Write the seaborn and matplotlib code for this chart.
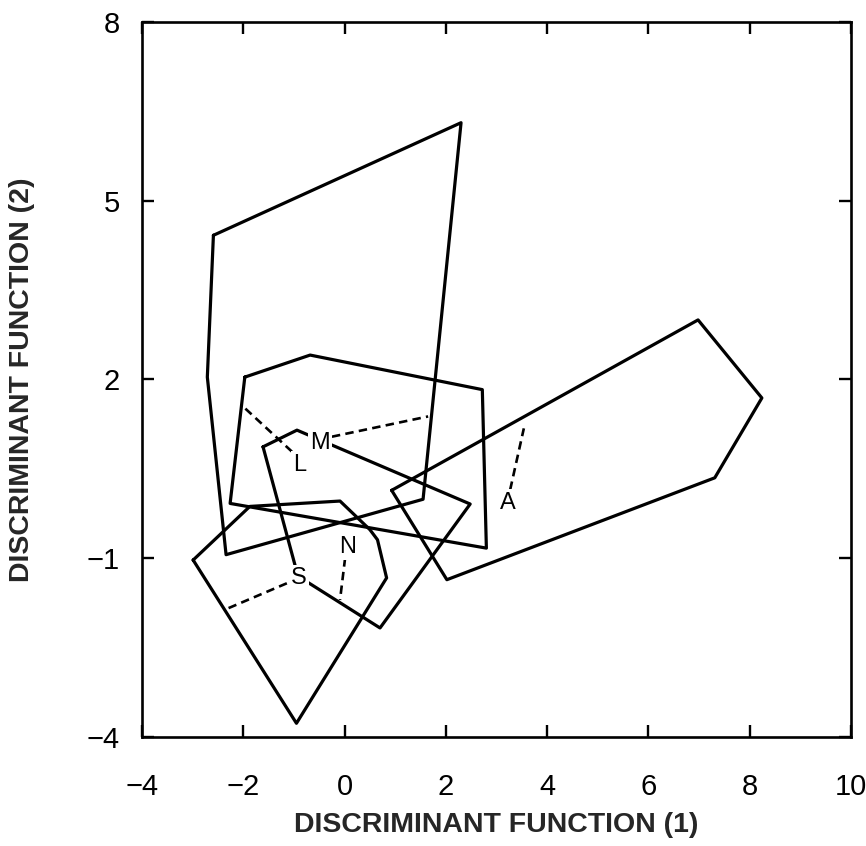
import numpy as np
import pandas as pd
import matplotlib
matplotlib.use("Agg")
import matplotlib.pyplot as plt
import seaborn as sns

# ---- data ----
hull_tall_x = [-2.59, 2.30, 1.55, -2.34, -2.71]
hull_tall_y = [4.42, 6.31, -0.01, -0.94, 2.04]
hull_box_x = [-1.97, -0.68, 2.72, 2.80, -2.26]
hull_box_y = [2.04, 2.41, 1.83, -0.83, -0.08]
hull_a_x = [0.93, 6.98, 8.24, 7.31, 2.02]
hull_a_y = [0.14, 3.00, 1.69, 0.35, -1.36]
hull_low_x = [-2.99, -1.87, -0.09, 0.50, 0.65, 0.83, -0.95]
hull_low_y = [-1.03, -0.13, -0.04, -0.52, -0.69, -1.33, -3.77]
hull_mid_x = [-1.61, -0.94, 2.48, 0.70, -0.92]
hull_mid_y = [0.87, 1.15, -0.09, -2.17, -1.30]

labels = ["L", "M", "N", "S", "A"]
label_x = [-0.88, -0.49, 0.05, -0.90, 3.23]
label_y = [0.57, 0.94, -0.81, -1.33, -0.07]
leader_x0 = [-1.04, -0.25, 0.01, -1.14, 3.27]
leader_y0 = [0.79, 1.04, -1.00, -1.42, 0.15]
leader_x1 = [-1.97, 1.65, -0.09, -2.30, 3.54]
leader_y1 = [1.52, 1.38, -1.70, -1.84, 1.18]

x_ticks = [-4, -2, 0, 2, 4, 6, 8, 10]
y_ticks = [-4, -1, 2, 5, 8]

# ---- build tables ----
hulls = {
    "tall": (hull_tall_x, hull_tall_y),
    "box": (hull_box_x, hull_box_y),
    "a": (hull_a_x, hull_a_y),
    "low": (hull_low_x, hull_low_y),
    "mid": (hull_mid_x, hull_mid_y),
}
rows = []
for name, (xs, ys) in hulls.items():
    xs = list(xs) + [xs[0]]
    ys = list(ys) + [ys[0]]
    for i, (xv, yv) in enumerate(zip(xs, ys)):
        rows.append({"hull": name, "order": i, "x": xv, "y": yv})
hull_df = pd.DataFrame(rows)

lrows = []
for lab, a, b, c, d in zip(labels, leader_x0, leader_y0, leader_x1, leader_y1):
    lrows.append({"label": lab, "order": 0, "x": a, "y": b})
    lrows.append({"label": lab, "order": 1, "x": c, "y": d})
leader_df = pd.DataFrame(lrows)

# ---- style ----
sns.set_style("ticks")
plt.rcParams["font.family"] = ["Liberation Sans", "DejaVu Sans"]

fig = plt.figure(figsize=(8.66, 8.46), dpi=100)
ax = fig.add_axes([142 / 866, 1 - 737 / 846, 709 / 866, 715 / 846])

sns.lineplot(data=hull_df, x="x", y="y", units="hull", estimator=None,
             sort=False, color="black", linewidth=2.3, ax=ax, legend=False)
sns.lineplot(data=leader_df, x="x", y="y", units="label", estimator=None,
             sort=False, color="black", linewidth=1.9, ax=ax, legend=False,
             linestyle=(0, (3.2, 2)))

for lab, xv, yv in zip(labels, label_x, label_y):
    ax.text(xv, yv, lab, ha="center", va="center", fontsize=17,
            color="black", zorder=5,
            bbox=dict(boxstyle="square,pad=0.1", fc="white", ec="none"))

ax.set_xlim(-4, 10)
ax.set_ylim(-4, 8)
ax.set_xticks(x_ticks)
ax.set_yticks(y_ticks)
ax.set_xticklabels([f"{v}".replace("-", "\u2212") for v in x_ticks])
ax.set_yticklabels([f"{v}".replace("-", "\u2212") for v in y_ticks])

for sp in ax.spines.values():
    sp.set_linewidth(1.9)
    sp.set_color("black")

ax.tick_params(axis="both", direction="in", length=8.5, width=1.7,
               top=True, right=True, labelsize=21, colors="black")
ax.tick_params(axis="x", pad=26)
ax.tick_params(axis="y", pad=16)

ax.set_xlabel("DISCRIMINANT FUNCTION (1)", fontsize=20.5, fontweight="bold")
ax.set_ylabel("DISCRIMINANT FUNCTION (2)", fontsize=20.5, fontweight="bold")
ax.xaxis.set_label_coords(0.5, -(812 - 737) / 715)
ax.yaxis.set_label_coords((35 - 142) / 709, 0.5)

fig.savefig("out.png", dpi=100)
